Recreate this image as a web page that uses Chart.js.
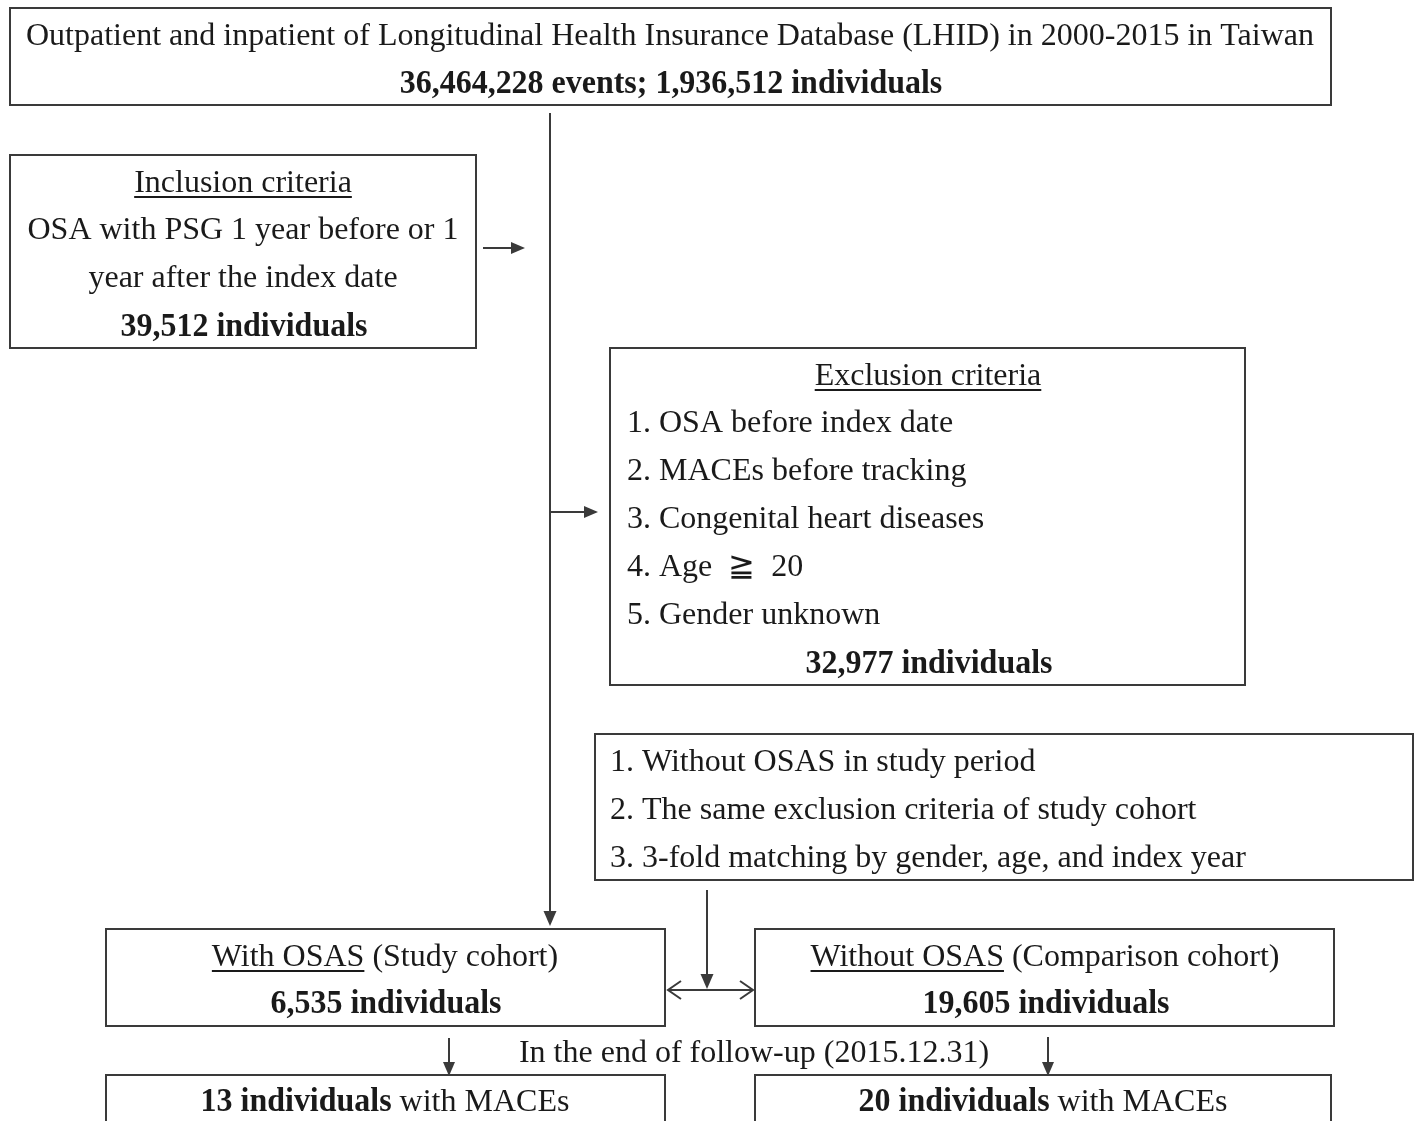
<!DOCTYPE html>
<html><head><meta charset="utf-8">
<script src="https://cdn.jsdelivr.net/npm/chart.js@4/dist/chart.umd.min.js"></script>
<style>html,body{margin:0;padding:0;background:#fff}#wrap{width:1418px;height:1121px;position:relative}</style>
</head><body><div id="wrap"><canvas id="c"></canvas></div>
<script>
// ---- data ----
const sourceTitle = "Outpatient and inpatient of Longitudinal Health Insurance Database (LHID) in 2000-2015 in Taiwan";
const sourceCounts = [36464228, 1936512]; // events, individuals
const inclusionTitle = "Inclusion criteria";
const inclusionLines = ["OSA with PSG 1 year before or 1", "year after the index date"];
const inclusionCount = 39512;
const exclusionTitle = "Exclusion criteria";
const exclusionItems = ["OSA before index date", "MACEs before tracking", "Congenital heart diseases", "Age  \u2267  20", "Gender unknown"];
const exclusionCount = 32977;
const matchingItems = ["Without OSAS in study period", "The same exclusion criteria of study cohort", "3-fold matching by gender, age, and index year"];
const cohortNames = ["With OSAS", "Without OSAS"];
const cohortLabels = ["(Study cohort)", "(Comparison cohort)"];
const cohortCounts = [6535, 19605];
const followUpLabel = "In the end of follow-up (2015.12.31)";
const maceCounts = [13, 20];

// ---- styles ----
const FS = 32, FSB = 34, SX = 1.0, SXB = 0.94, FAMILY = '"Liberation Serif", "Times New Roman", serif';
const TEXT = '#1a1a1a', LINE = '#3a3a3a';
const fmt = n => n.toLocaleString('en-US');

const flowPlugin = {
  id: 'flow',
  beforeDraw(chart) {
    const c = chart.ctx; c.save(); c.fillStyle = '#fff'; c.fillRect(0, 0, chart.width, chart.height); c.restore();
  },
  afterDraw(chart) {
    const ctx = chart.ctx;
    const X = v => chart.scales.x.getPixelForValue(v);
    const Y = v => chart.scales.y.getPixelForValue(v);
    const font = b => (b ? 'bold ' + FSB : FS) + 'px ' + FAMILY;

    function text(parts, x, y, align) {
      if (typeof parts === 'string') parts = [{ t: parts }];
      ctx.fillStyle = TEXT; ctx.textBaseline = 'alphabetic'; ctx.textAlign = 'left';
      const w = parts.map(p => { ctx.font = font(p.b); return ctx.measureText(p.t).width * (p.b ? SXB : SX); });
      const total = w.reduce((a, b) => a + b, 0);
      let cx = align === 'center' ? X(x) - total / 2 : X(x);
      const by = Y(y) + 11;
      parts.forEach((p, i) => {
        ctx.font = font(p.b);
        ctx.save(); ctx.translate(cx, by); ctx.scale(p.b ? SXB : SX, 1); ctx.fillText(p.t, 0, 0); ctx.restore();
        if (p.u) ctx.fillRect(cx, by + 4, w[i], 2);
        cx += w[i];
      });
    }
    function box(x0, y0, x1, y1) {
      ctx.strokeStyle = LINE; ctx.lineWidth = 2;
      ctx.strokeRect(X(x0), Y(y0), X(x1) - X(x0), Y(y1) - Y(y0));
    }
    function line(x0, y0, x1, y1) {
      ctx.strokeStyle = LINE; ctx.lineWidth = 2;
      ctx.beginPath(); ctx.moveTo(X(x0), Y(y0)); ctx.lineTo(X(x1), Y(y1)); ctx.stroke();
    }
    function head(x, y, dir, len, half) { // filled head, tip at (x,y)
      ctx.fillStyle = LINE; ctx.beginPath();
      const px = X(x), py = Y(y);
      if (dir === 'down') { ctx.moveTo(px, py); ctx.lineTo(px - half, py - len); ctx.lineTo(px + half, py - len); }
      if (dir === 'right') { ctx.moveTo(px, py); ctx.lineTo(px - len, py - half); ctx.lineTo(px - len, py + half); }
      ctx.closePath(); ctx.fill();
    }
    function openHead(x, y, dir) {
      const px = X(x), py = Y(y), s = dir === 'left' ? 1 : -1;
      ctx.strokeStyle = LINE; ctx.lineWidth = 2; ctx.beginPath();
      ctx.moveTo(px + s * 13, py - 9); ctx.lineTo(px, py); ctx.lineTo(px + s * 13, py + 9); ctx.stroke();
    }

    // source box
    box(10, 8, 1331, 105);
    text(sourceTitle, 670, 34, 'center');
    text([{ t: fmt(sourceCounts[0]) + ' events; ' + fmt(sourceCounts[1]) + ' individuals', b: true }], 671, 82, 'center');

    // main vertical arrow
    line(550, 113, 550, 912);
    head(550, 926, 'down', 15, 6.5);

    // inclusion box
    box(10, 155, 476, 348);
    text([{ t: inclusionTitle, u: true }], 243, 181, 'center');
    inclusionLines.forEach((s, i) => text(s, 243, 228 + i * 48, 'center'));
    text([{ t: fmt(inclusionCount) + ' individuals', b: true }], 244, 325, 'center');
    line(483, 248, 512, 248); head(525, 248, 'right', 14, 6);

    // exclusion box
    box(610, 348, 1245, 685);
    text([{ t: exclusionTitle, u: true }], 928, 374, 'center');
    exclusionItems.forEach((s, i) => { text((i + 1) + '.', 627, 421 + i * 48, 'left'); text(s, 659, 421 + i * 48, 'left'); });
    text([{ t: fmt(exclusionCount) + ' individuals', b: true }], 929, 662, 'center');
    line(551, 512, 585, 512); head(598, 512, 'right', 14, 6);

    // matching box
    box(595, 734, 1413, 880);
    matchingItems.forEach((s, i) => { text((i + 1) + '.', 610, 760 + i * 48, 'left'); text(s, 642, 760 + i * 48, 'left'); });
    line(707, 890, 707, 975); head(707, 989, 'down', 15, 6.5);

    // double arrow between cohorts
    line(668, 990, 753, 990); openHead(668, 990, 'left'); openHead(753, 990, 'right');

    // cohort boxes
    box(106, 929, 665, 1026);
    box(755, 929, 1334, 1026);
    text([{ t: cohortNames[0], u: true }, { t: ' ' + cohortLabels[0] }], 385, 955, 'center');
    text([{ t: cohortNames[1], u: true }, { t: ' ' + cohortLabels[1] }], 1045, 955, 'center');
    text([{ t: fmt(cohortCounts[0]) + ' individuals', b: true }], 386, 1002, 'center');
    text([{ t: fmt(cohortCounts[1]) + ' individuals', b: true }], 1046, 1002, 'center');

    // follow-up
    text(followUpLabel, 754, 1051, 'center');
    line(449, 1038, 449, 1062); head(449, 1076, 'down', 14, 6);
    line(1048, 1037, 1048, 1062); head(1048, 1076, 'down', 14, 6);

    // MACE boxes (cut by bottom edge)
    box(106, 1075, 665, 1140);
    box(755, 1075, 1331, 1140);
    text([{ t: maceCounts[0] + ' individuals', b: true }, { t: ' with MACEs' }], 385, 1100, 'center');
    text([{ t: maceCounts[1] + ' individuals', b: true }, { t: ' with MACEs' }], 1043, 1100, 'center');
  }
};

new Chart(document.getElementById('c'), {
  type: 'scatter',
  data: { datasets: [{ data: [], showLine: false, pointRadius: 0 }] },
  options: {
    responsive: true, maintainAspectRatio: false, animation: false, events: [],
    layout: { padding: 0 },
    plugins: { legend: { display: false }, tooltip: { enabled: false } },
    scales: {
      x: { type: 'linear', min: 0, max: 1418, display: false },
      y: { type: 'linear', min: 0, max: 1121, reverse: true, display: false }
    }
  },
  plugins: [flowPlugin]
});
</script>
</body></html>
